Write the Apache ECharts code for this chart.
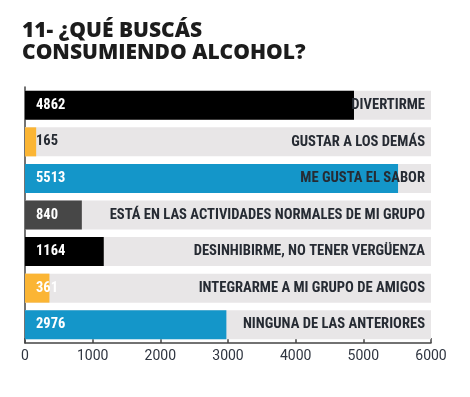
<!DOCTYPE html>
<html>
<head>
<meta charset="utf-8">
<script src="https://cdn.jsdelivr.net/npm/echarts@6/dist/echarts.min.js"></script>
<style>
  html, body { margin: 0; padding: 0; background: #fff; }
  #chart { width: 470px; height: 397px; }
</style>
</head>
<body>
<div id="chart"></div>
<script>
// respuestas, de arriba hacia abajo
const categories = [
  'DIVERTIRME',
  'GUSTAR A LOS DEMÁS',
  'ME GUSTA EL SABOR',
  'ESTÁ EN LAS ACTIVIDADES NORMALES DE MI GRUPO',
  'DESINHIBIRME, NO TENER VERGÜENZA',
  'INTEGRARME A MI GRUPO DE AMIGOS',
  'NINGUNA DE LAS ANTERIORES'
]
const values = [4862, 165, 5513, 840, 1164, 361, 2976]
const barColors = ['#000000', '#fbb534', '#1496c9', '#474747', '#000000', '#fbb534', '#1496c9']
const xTicks = [0, 1000, 2000, 3000, 4000, 5000, 6000]
const axisMax = 6000

const chart = echarts.init(document.getElementById('chart'))

const labelFont = '"Roboto Condensed", "DejaVu Sans Condensed", Roboto, sans-serif'
const fullRow = categories.map(() => axisMax)

chart.setOption({
  animation: false,
  title: {
    text: '11- ¿QUÉ BUSCÁS\nCONSUMIENDO ALCOHOL?',
    left: 17,
    top: 15,
    textStyle: {
      fontFamily: '"Open Sans", sans-serif',
      fontWeight: 800,
      fontSize: 21,
      lineHeight: 22,
      color: '#1c1c1c'
    }
  },
  grid: { left: 25, right: 39, top: 87, bottom: 54 },
  xAxis: {
    type: 'value',
    min: xTicks[0],
    max: xTicks[xTicks.length - 1],
    interval: 1000,
    splitLine: { show: false },
    axisLine: { show: true, lineStyle: { color: '#444', width: 1.5 } },
    axisTick: { show: true, inside: true, length: 5, lineStyle: { color: '#444', width: 1.5 } },
    axisLabel: {
      margin: 6,
      formatter: v => String(v),
      fontFamily: 'Roboto, sans-serif',
      fontSize: 14,
      color: '#2f3540'
    }
  },
  yAxis: {
    type: 'category',
    inverse: true,
    data: categories,
    axisLine: { show: true, lineStyle: { color: '#444', width: 1.5 } },
    axisTick: { show: false },
    axisLabel: { show: false }
  },
  series: [
    {
      name: 'fondo',
      type: 'bar',
      barWidth: 29,
      barGap: '-100%',
      silent: true,
      itemStyle: { color: '#e8e6e7' },
      data: fullRow,
      z: 1
    },
    {
      name: 'respuestas',
      type: 'bar',
      barWidth: 29,
      barGap: '-100%',
      data: values.map((v, i) => ({
        value: v,
        itemStyle: { color: barColors[i] },
        label: { color: v < 300 ? '#262b33' : '#ffffff' }
      })),
      label: {
        show: true,
        position: 'insideLeft',
        distance: 11,
        fontFamily: labelFont,
        fontWeight: 'bold',
        fontSize: 14.5
      },
      z: 2
    },
    {
      name: 'etiquetas',
      type: 'bar',
      barWidth: 29,
      barGap: '-100%',
      silent: true,
      itemStyle: { color: 'transparent' },
      data: fullRow,
      label: {
        show: true,
        position: 'insideRight',
        distance: 6,
        formatter: p => categories[p.dataIndex],
        fontFamily: labelFont,
        fontWeight: 'bold',
        fontSize: 14.6,
        color: '#262b33'
      },
      z: 3
    }
  ]
})
</script>
</body>
</html>
